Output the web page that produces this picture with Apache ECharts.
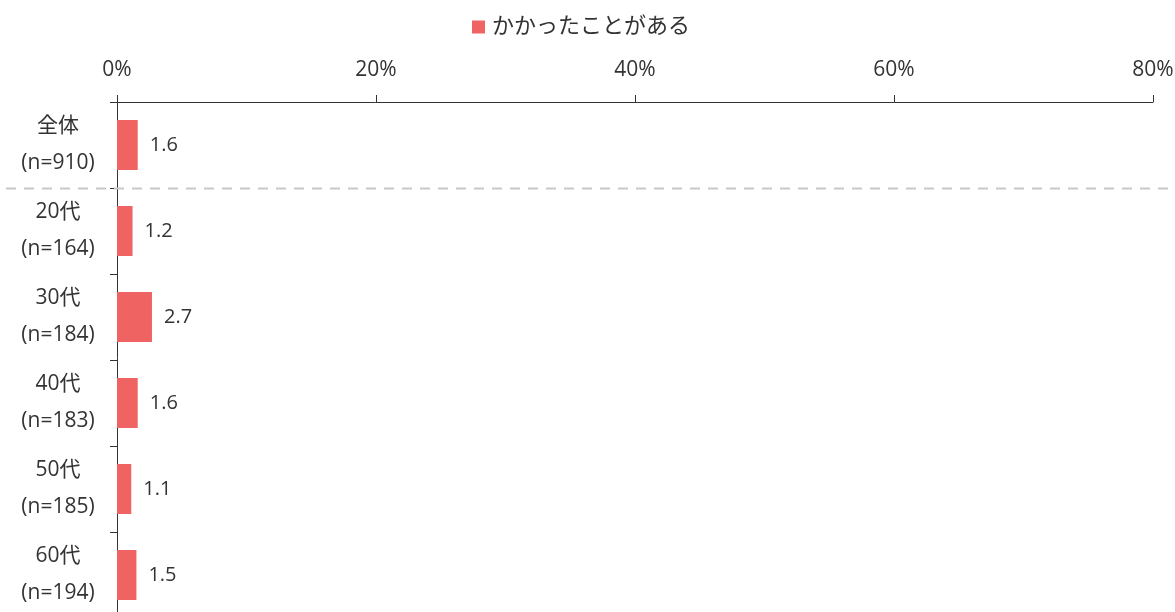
<!DOCTYPE html>
<html>
<head>
<meta charset="utf-8">
<script src="https://cdn.jsdelivr.net/npm/echarts@6/dist/echarts.min.js"></script>
<style>
  html, body { margin: 0; padding: 0; background: #fff; }
  #chart { width: 1175px; height: 612px; }
</style>
</head>
<body>
<div id="chart"></div>
<script>
const groups = ["全体", "20代", "30代", "40代", "50代", "60代"];
const counts = [910, 164, 184, 183, 185, 194];
const values = [1.6, 1.2, 2.7, 1.6, 1.1, 1.5];
const seriesName = "かかったことがある";
const xTicks = [0, 20, 40, 60, 80];

const font = '"Segoe UI", "Open Sans", "Noto Sans CJK JP", sans-serif';
const categories = groups.map((g, i) => g + "\n(n=" + counts[i] + ")");

const chart = echarts.init(document.getElementById("chart"));

const option = {
  animation: false,
  textStyle: { fontFamily: font },
  legend: {
    top: 16,
    left: 472,
    padding: 0,
    itemWidth: 13,
    itemHeight: 13,
    itemGap: 10,
    icon: "rect",
    textStyle: { fontSize: 22, color: "#333", fontFamily: font, padding: [0, 0, 0, 2] },
    data: [seriesName]
  },
  grid: {
    left: 117,
    right: 22,
    top: 102,
    height: 516,
    containLabel: false,
    outerBoundsMode: "none"
  },
  xAxis: {
    type: "value",
    position: "top",
    min: xTicks[0],
    max: xTicks[xTicks.length - 1],
    interval: 20,
    axisLine: { show: true, lineStyle: { color: "#333", width: 1 } },
    axisTick: { show: true, length: 7, lineStyle: { color: "#333" } },
    splitLine: { show: false },
    axisLabel: {
      margin: 21,
      fontSize: 21,
      color: "#333",
      fontFamily: font,
      formatter: v => v + "%"
    }
  },
  yAxis: {
    type: "category",
    inverse: true,
    data: categories,
    axisLine: { show: true, lineStyle: { color: "#333", width: 1 } },
    axisTick: { show: true, length: 7, alignWithLabel: false, lineStyle: { color: "#333" } },
    axisLabel: {
      margin: 59,
      align: "center",
      fontSize: 21,
      lineHeight: 37,
      color: "#333",
      fontFamily: font
    }
  },
  series: [
    {
      name: seriesName,
      type: "bar",
      data: values,
      barWidth: 50,
      itemStyle: { color: "#EF6363" },
      label: {
        show: true,
        position: "right",
        distance: 12,
        fontSize: 20,
        color: "#333",
        fontFamily: font
      }
    }
  ]
};

chart.setOption(option);

// dashed separator between 全体 and the age groups
const yA = chart.convertToPixel({ yAxisIndex: 0 }, 0);
const yB = chart.convertToPixel({ yAxisIndex: 0 }, 1);
const sepY = Math.round((yA + yB) / 2) + 0.5;
chart.setOption({
  graphic: [
    {
      type: "line",
      shape: { x1: 6, y1: sepY, x2: 1168, y2: sepY },
      style: { stroke: "#c8c8c8", lineWidth: 2, lineDash: [10, 8] },
      z: 10
    }
  ]
});
</script>
</body>
</html>
